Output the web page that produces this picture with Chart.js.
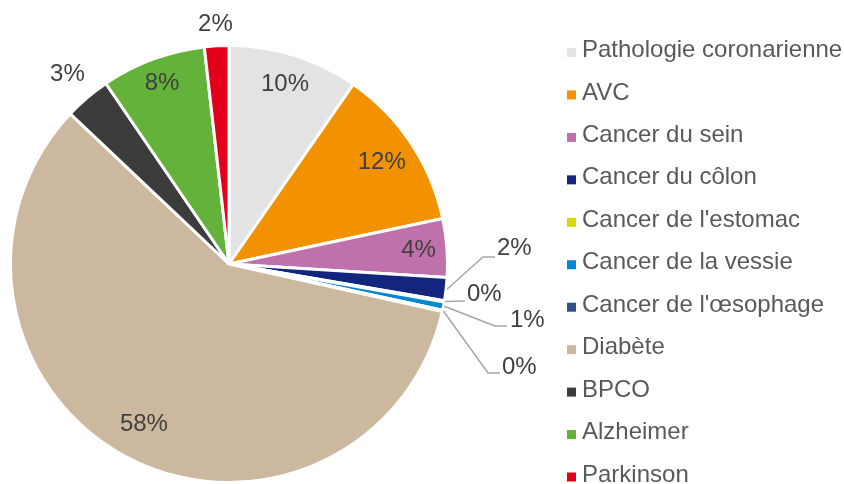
<!DOCTYPE html>
<html>
<head>
<meta charset="utf-8">
<script src="https://cdn.jsdelivr.net/npm/chart.js@4"></script>
<style>
  html, body { margin: 0; padding: 0; background: #fff; }
  #c { display: block; }
</style>
</head>
<body>
<canvas id="c" width="844" height="484"></canvas>
<script>
// data (share of total, %)
const categories = ['Pathologie coronarienne', 'AVC', 'Cancer du sein', 'Cancer du côlon',
  "Cancer de l'estomac", 'Cancer de la vessie', "Cancer de l'œsophage", 'Diabète', 'BPCO',
  'Alzheimer', 'Parkinson'];
const shares = [9.6, 12.0, 4.3, 1.7, 0.1, 0.6, 0.1, 58.4, 3.4, 7.7, 1.8];
const colors = ['#e3e3e3', '#f39200', '#bf71ab', '#13257f', '#d4d900', '#0088d0', '#2e5281',
  '#ccb89e', '#3c3c3c', '#63b33b', '#e2001a'];

const FONT = '24px "Liberation Sans", Arial, sans-serif';

// where each label goes: inside (r factor), outside, or with a leader line
// leader: elbow / end offsets from the pie centre, text anchor too
const labelPlace = {
  0: {r: 0.86}, 1: {r: 0.84}, 2: {r: 0.87}, 7: {r: 0.83}, 9: {r: 0.88},
  8: {r: 1.14}, 10: {r: 1.10},
  3: {elbow: [254, -7], end: [266, -7], text: [268, -16]},
  4: {elbow: [236, 37], end: [236, 37], text: [238, 30]},
  5: {elbow: [266, 62], end: [278, 62], text: [281, 56]},
  6: {elbow: [259, 109], end: [271, 109], text: [273, 103]}
};

const labelsPlugin = {
  id: 'pieLabels',
  afterDatasetsDraw(chart) {
    const ctx = chart.ctx;
    const meta = chart.getDatasetMeta(0);
    ctx.save();
    ctx.font = FONT;
    ctx.fillStyle = '#404040';
    meta.data.forEach((arc, i) => {
      const p = labelPlace[i];
      const txt = Math.round(shares[i]) + '%';
      const mid = (arc.startAngle + arc.endAngle) / 2;
      if (p.r !== undefined) {
        const rr = arc.outerRadius * p.r;
        ctx.textAlign = 'center';
        ctx.textBaseline = 'middle';
        ctx.fillText(txt, arc.x + Math.cos(mid) * rr, arc.y + Math.sin(mid) * rr);
      } else {
        const sx = arc.x + Math.cos(mid) * (arc.outerRadius + 1);
        const sy = arc.y + Math.sin(mid) * (arc.outerRadius + 1);
        ctx.strokeStyle = '#a6a6a6';
        ctx.lineWidth = 1.5;
        ctx.beginPath();
        ctx.moveTo(sx, sy);
        ctx.lineTo(arc.x + p.elbow[0], arc.y + p.elbow[1]);
        ctx.lineTo(arc.x + p.end[0], arc.y + p.end[1]);
        ctx.stroke();
        ctx.textAlign = 'left';
        ctx.textBaseline = 'middle';
        ctx.fillText(txt, arc.x + p.text[0], arc.y + p.text[1]);
      }
    });
    // legend
    ctx.font = FONT;
    ctx.textAlign = 'left';
    ctx.textBaseline = 'middle';
    categories.forEach((name, i) => {
      const y = 52.5 + i * 42.45;
      ctx.fillStyle = colors[i];
      ctx.fillRect(567, y - 4.5, 9, 9);
      ctx.fillStyle = '#595959';
      ctx.fillText(name, 582, y - 2);
    });
    ctx.restore();
  }
};

new Chart(document.getElementById('c'), {
  type: 'pie',
  data: {
    labels: categories,
    datasets: [{
      data: shares,
      backgroundColor: colors,
      borderColor: '#ffffff',
      borderWidth: 3
    }]
  },
  options: {
    responsive: false,
    animation: false,
    events: [],
    layout: { padding: { left: 9, top: 44, right: 395, bottom: 0 } },
    plugins: { legend: { display: false }, tooltip: { enabled: false } }
  },
  plugins: [labelsPlugin]
});
</script>
</body>
</html>
